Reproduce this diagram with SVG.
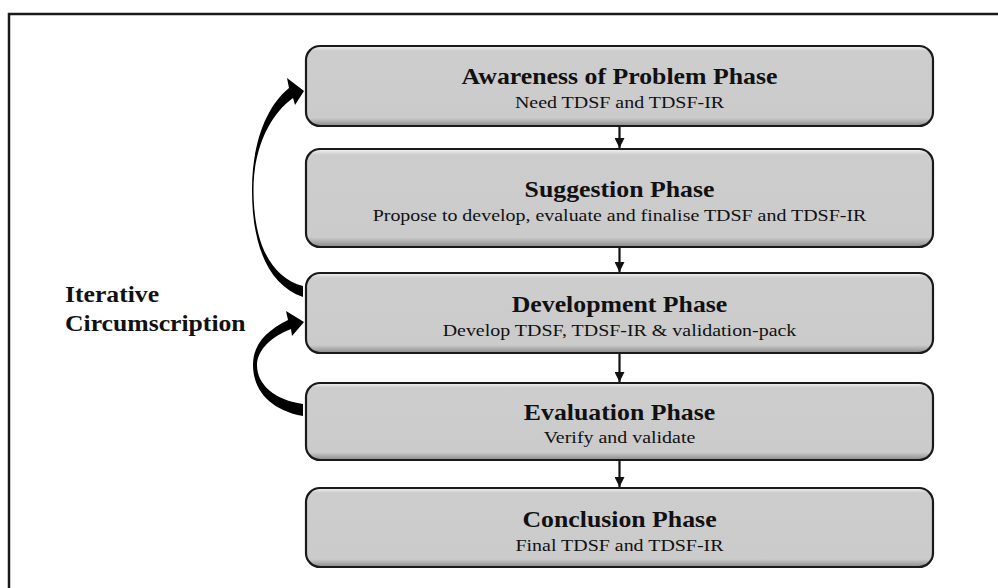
<svg xmlns="http://www.w3.org/2000/svg" width="998" height="588" viewBox="0 0 998 588">
<style>
.box{fill:url(#g);stroke:#1a1a1a;stroke-width:2.2}
.t{font-family:"Liberation Serif","Times New Roman",serif;font-weight:bold;font-size:24px;fill:#111;text-anchor:middle}
.s{font-family:"Liberation Serif","Times New Roman",serif;font-size:17.5px;fill:#111;text-anchor:middle}
.lbl{font-family:"Liberation Serif","Times New Roman",serif;font-weight:bold;font-size:24px;fill:#111}
.ln{stroke:#111;stroke-width:2.2;fill:none}
</style>
<defs>
<linearGradient id="g" x1="0" y1="0" x2="0" y2="1">
<stop offset="0" stop-color="#f4f4f4"/>
<stop offset="0.06" stop-color="#cdcdcd"/>
<stop offset="0.9" stop-color="#cbcbcb"/>
<stop offset="1" stop-color="#8a8a8a"/>
</linearGradient>
<marker id="ah" markerWidth="10" markerHeight="10" refX="10" refY="5" orient="auto" markerUnits="userSpaceOnUse" viewBox="0 0 10 10">
<path d="M0 0 L10 5 L0 10 Z" fill="#111"/>
</marker>
</defs>
<rect x="9" y="14" width="1000" height="600" fill="#fff" stroke="#1a1a1a" stroke-width="2.5"/>
<g id="awareness"><rect class="box" x="306" y="46" width="627" height="80" rx="14"/>
<g transform="translate(619.5,0) scale(1.075,1)"><text class="t" x="0" y="84">Awareness of Problem Phase</text></g>
<g transform="translate(619.5,0) scale(1.14,1)"><text class="s" x="0" y="108">Need TDSF and TDSF-IR</text></g></g>
<g id="suggestion"><rect class="box" x="306" y="149" width="627" height="98" rx="14"/>
<g transform="translate(619.5,0) scale(1.075,1)"><text class="t" x="0" y="197">Suggestion Phase</text></g>
<g transform="translate(619.5,0) scale(1.14,1)"><text class="s" x="0" y="221">Propose to develop, evaluate and finalise TDSF and TDSF-IR</text></g></g>
<g id="development"><rect class="box" x="306" y="273" width="627" height="80" rx="14"/>
<g transform="translate(619.5,0) scale(1.075,1)"><text class="t" x="0" y="312">Development Phase</text></g>
<g transform="translate(619.5,0) scale(1.14,1)"><text class="s" x="0" y="336">Develop TDSF, TDSF-IR &amp; validation-pack</text></g></g>
<g id="evaluation"><rect class="box" x="306" y="383" width="627" height="77" rx="14"/>
<g transform="translate(619.5,0) scale(1.075,1)"><text class="t" x="0" y="420">Evaluation Phase</text></g>
<g transform="translate(619.5,0) scale(1.14,1)"><text class="s" x="0" y="443">Verify and validate</text></g></g>
<g id="conclusion"><rect class="box" x="306" y="488" width="627" height="79" rx="14"/>
<g transform="translate(619.5,0) scale(1.075,1)"><text class="t" x="0" y="527">Conclusion Phase</text></g>
<g transform="translate(619.5,0) scale(1.14,1)"><text class="s" x="0" y="551">Final TDSF and TDSF-IR</text></g></g>
<g id="label" transform="translate(65,0) scale(1.07,1)"><text class="lbl" x="0" y="302">Iterative</text><text class="lbl" x="0" y="331">Circumscription</text></g>
<g id="connectors">
<line class="ln" x1="619.5" y1="127" x2="619.5" y2="148" marker-end="url(#ah)"/>
<line class="ln" x1="619.5" y1="248" x2="619.5" y2="272" marker-end="url(#ah)"/>
<line class="ln" x1="619.5" y1="354" x2="619.5" y2="382" marker-end="url(#ah)"/>
<line class="ln" x1="619.5" y1="461" x2="619.5" y2="487" marker-end="url(#ah)"/>
<path d="M303 297 C268 285 252 245 252 190 C252 140 268 105 289 88 L287 78 L304 91 L295 105 L293 98 C272 113 253.5 145 253.5 190 C253.5 245 272 278 303 286 Z" fill="#000"/>
<path d="M303 416 C270 410 253 390 253 365 C253 343 268 330 288 320 L286 311 L304 322 L292 336 L291 329 C272 336 257 350 257 365 C257 385 275 400 303 404 Z" fill="#000"/>
</g>
</svg>
